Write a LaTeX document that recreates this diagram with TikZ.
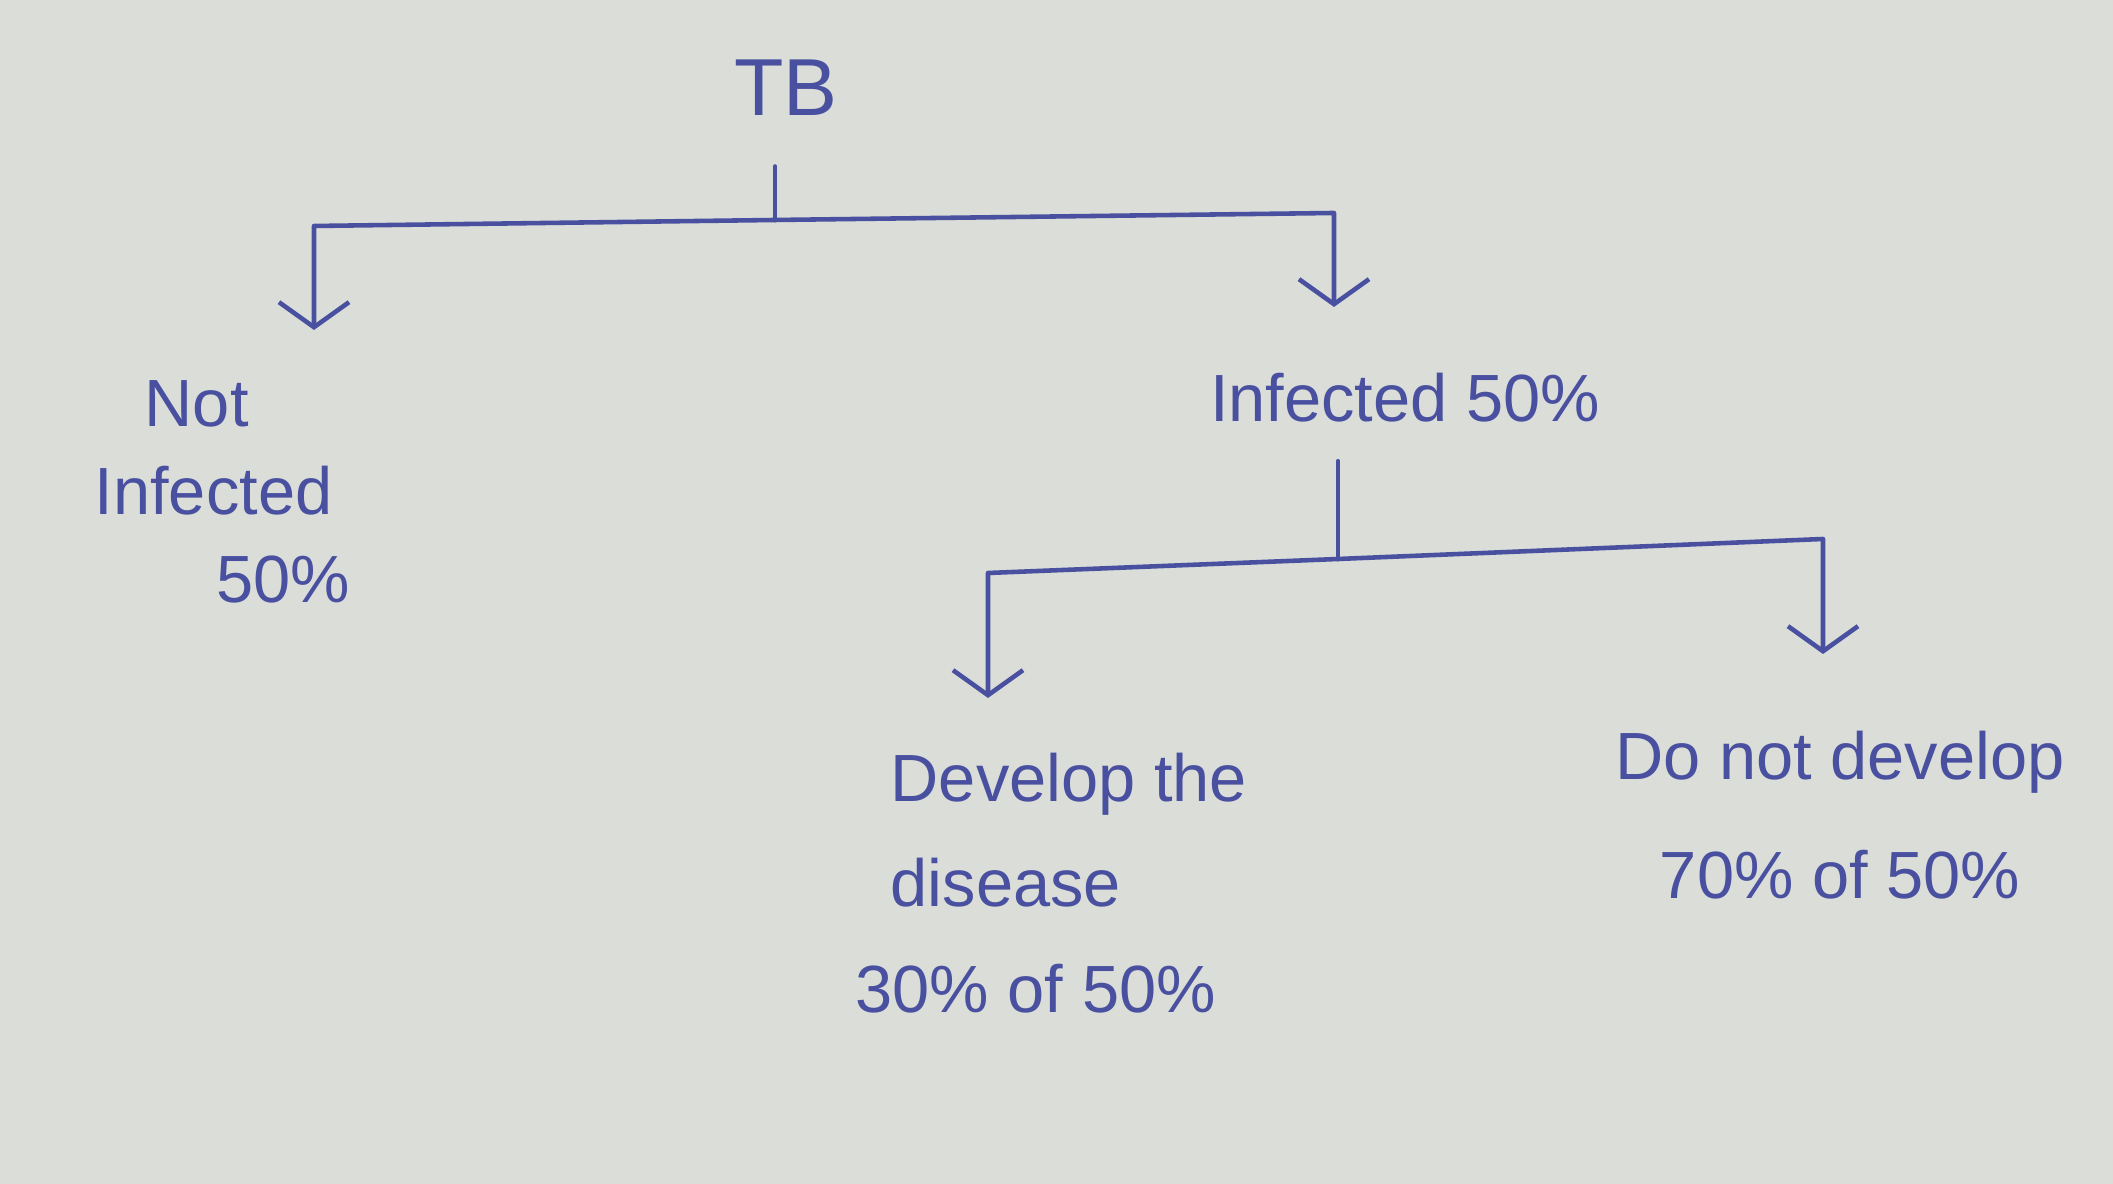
\documentclass[tikz,border=0pt]{standalone}
\usepackage{fontspec}
\setmainfont{Liberation Sans}
\usetikzlibrary{arrows.meta}
\definecolor{ink}{RGB}{74,80,160}
\definecolor{paper}{RGB}{218,221,216}
\tikzset{
  pen/.style={draw=ink,line width=1.3pt,line cap=round,line join=round},
  note/.style={text=ink,font=\fontsize{19}{25}\selectfont,inner sep=0pt},
  >={Straight Barb[length=2.5mm,width=7mm]}
}
\begin{document}
\begin{tikzpicture}
\fill[paper] (0,0) rectangle (21.13,11.84);
\useasboundingbox (0,0) rectangle (21.13,11.84);
% top level
\node[note,font=\fontsize{23}{28}\selectfont] (tb) at (7.86,10.96) {TB};
\coordinate (tbjoin) at (7.75,9.64);
\coordinate (tbleft) at (3.14,9.58);
\coordinate (tbright) at (13.34,9.71);
\coordinate (notend) at (3.14,8.54);
\coordinate (infend) at (13.34,8.77);
\node[note,anchor=west,align=left] (notinf) at (0.94,6.92) {\hspace*{0.5cm}Not\\Infected\\\hspace*{1.22cm}50\%};
\node[note] (inf) at (14.05,7.86) {Infected 50\%};
\draw[pen,shorten <=0.5cm] (tb.south -| tbjoin) -- (tbjoin);
\draw[pen,->] (tbjoin) -- (tbleft) -- (notend);
\draw[pen,->] (tbjoin) -- (tbright) -- (infend);
% second level
\coordinate (infjoin) at (13.38,6.25);
\coordinate (infleft) at (9.88,6.11);
\coordinate (infright) at (18.23,6.45);
\coordinate (devend) at (9.88,4.86);
\coordinate (nodevend) at (18.23,5.30);
\node[note,anchor=west,align=left,font=\fontsize{19}{30}\selectfont] (dev) at (8.55,3.01) {\hspace*{0.35cm}Develop the\\\hspace*{0.35cm}disease\\30\% of 50\%};
\node[note,align=center,font=\fontsize{19}{34}\selectfont] (nodev) at (18.4,3.69) {Do not develop\\70\% of 50\%};
\draw[pen,shorten <=0.38cm] (inf.south -| infjoin) -- (infjoin);
\draw[pen,->] (infjoin) -- (infleft) -- (devend);
\draw[pen,->] (infjoin) -- (infright) -- (nodevend);
\end{tikzpicture}
\end{document}
